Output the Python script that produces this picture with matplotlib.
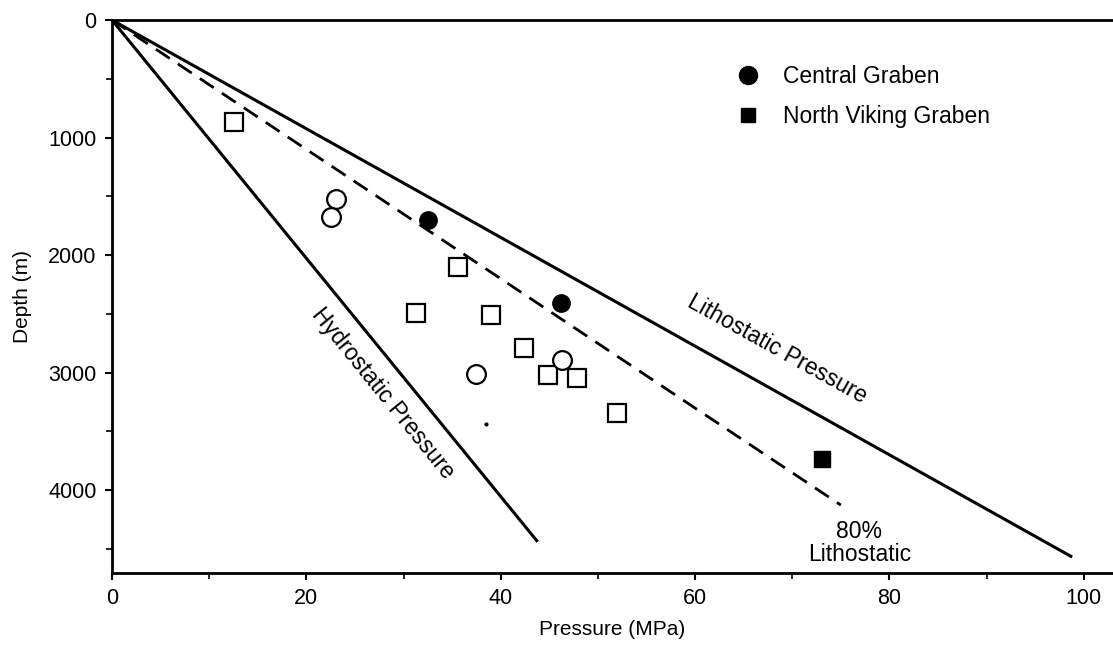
import matplotlib
matplotlib.use('Agg')
import matplotlib.pyplot as plt
from matplotlib.lines import Line2D

plt.rcParams['font.family'] = ['Liberation Sans', 'DejaVu Sans']

# gradient lines: (pressure MPa, depth m) end points, all start at the origin
hydro_end = (43.8, 4440)
litho_end = (98.8, 4570)
litho80_end = (75.0, 4128)

# open squares
sq_p = [12.6, 35.6, 31.3, 39.0, 42.4, 44.9, 47.8, 52.0]
sq_d = [868, 2102, 2494, 2511, 2791, 3021, 3047, 3345]

# open circles
ci_p = [23.1, 22.5, 37.5, 46.3]
ci_d = [1523, 1677, 3013, 2894]

# Central Graben (filled circles)
cg_p = [32.5, 46.2]
cg_d = [1702, 2409]

# North Viking Graben (filled square)
nvg_p = [73.1]
nvg_d = [3736]

# stray dot
dot_p = [38.5]
dot_d = [3438]

fig = plt.figure(figsize=(11.13, 6.45), dpi=100)
ax = fig.add_axes([0.1006, 0.1116, 0.8994, 0.8574])

ax.plot([0, hydro_end[0]], [0, hydro_end[1]], color='black', lw=2.2, solid_capstyle='butt')
ax.plot([0, litho_end[0]], [0, litho_end[1]], color='black', lw=2.2, solid_capstyle='butt')
ax.plot([0, litho80_end[0]], [0, litho80_end[1]], color='black', lw=2.0,
        linestyle=(0, (6, 3.5)))

ax.plot(sq_p, sq_d, 's', ms=13, mfc='white', mec='black', mew=1.6, ls='none')
ax.plot(ci_p, ci_d, 'o', ms=13.5, mfc='white', mec='black', mew=1.6, ls='none')
ax.plot(cg_p, cg_d, 'o', ms=12.5, mfc='black', mec='black', ls='none')
ax.plot(nvg_p, nvg_d, 's', ms=11, mfc='black', mec='black', ls='none')
ax.plot(dot_p, dot_d, '.', ms=4, color='black', ls='none')

ax.text(27.9, 3180, 'Hydrostatic Pressure', rotation=-51, rotation_mode='anchor',
        ha='center', va='center', fontsize=16.5)
ax.text(68.4, 2800, 'Lithostatic Pressure', rotation=-29, rotation_mode='anchor',
        ha='center', va='center', fontsize=16.5)
ax.text(76.9, 4450, '80%\nLithostatic', ha='center', va='center', fontsize=16.5,
        linespacing=1.0)

handles = [
    Line2D([], [], marker='o', ms=13, color='black', ls='none'),
    Line2D([], [], marker='s', ms=10.5, color='black', ls='none'),
]
ax.legend(handles, ['Central Graben', 'North Viking Graben'], loc='upper left',
          bbox_to_anchor=(0.603, 0.956), frameon=False, fontsize=16.5,
          handletextpad=1.05, labelspacing=0.75, handlelength=1.0)

ax.set_xlim(0, 103)
ax.set_ylim(4706, 0)
ax.set_xticks([0, 20, 40, 60, 80, 100])
ax.set_xticks(range(10, 101, 20), minor=True)
ax.set_yticks([0, 1000, 2000, 3000, 4000])
ax.set_yticks([500, 1500, 2500, 3500, 4500], minor=True)
ax.tick_params(which='major', direction='out', length=5, width=1.5, labelsize=15.5, pad=6)
ax.tick_params(which='minor', direction='out', length=4, width=1.2)

ax.spines['right'].set_visible(False)
for s in ['left', 'bottom', 'top']:
    ax.spines[s].set_linewidth(2.0)

ax.set_xlabel('Pressure (MPa)', fontsize=15, labelpad=8)
ax.set_ylabel('Depth (m)', fontsize=15, labelpad=12)

fig.savefig('out.png', dpi=100)
